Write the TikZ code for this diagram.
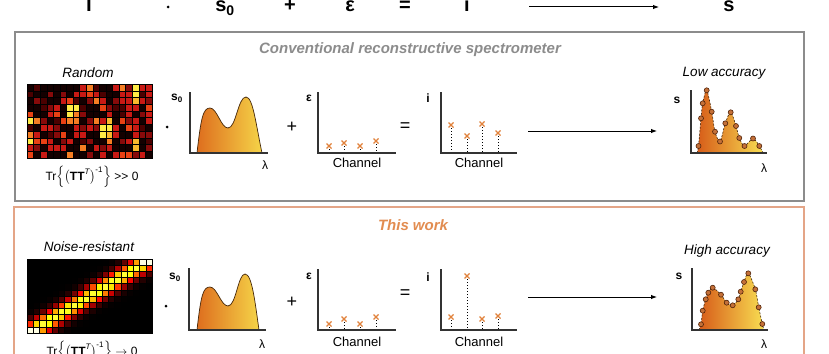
\documentclass[tikz,border=0pt]{standalone}
\usepackage{fontspec}
\usepackage{amsmath}
\setmainfont{Liberation Sans}
\usetikzlibrary{arrows.meta}
\definecolor{boxgray}{RGB}{140,140,140}
\definecolor{boxorange}{RGB}{228,165,135}
\definecolor{worko}{RGB}{226,140,80}
\definecolor{markc}{RGB}{225,130,60}
\definecolor{dotfill}{RGB}{196,112,56}
\definecolor{dotdraw}{RGB}{80,35,10}
\definecolor{sleft}{RGB}{222,110,30}
\definecolor{sright}{RGB}{245,212,72}
\definecolor{rleft}{RGB}{215,92,25}
\definecolor{rright}{RGB}{248,222,82}
\definecolor{s0line}{RGB}{70,40,10}
\definecolor{lv0}{RGB}{20,0,0}
\definecolor{lv1}{RGB}{75,0,0}
\definecolor{lv2}{RGB}{135,10,10}
\definecolor{lv3}{RGB}{200,25,20}
\definecolor{lv4}{RGB}{232,65,20}
\definecolor{lv5}{RGB}{245,125,35}
\definecolor{lv6}{RGB}{250,185,45}
\definecolor{lv7}{RGB}{255,235,70}
\definecolor{lv8}{RGB}{255,250,220}
\begin{document}
\begin{tikzpicture}[x=1pt,y=-1pt,
  every node/.style={inner sep=0pt, outer sep=0pt},
  toplbl/.style={font=\fontsize{20}{20}\selectfont\bfseries, anchor=base},
  boxtitle/.style={font=\fontsize{15}{15}\selectfont\bfseries\itshape},
  capt/.style={font=\fontsize{13.5}{13.5}\selectfont\itshape},
  axlbl/.style={font=\fontsize{12}{12}\selectfont\bfseries},
  lamlbl/.style={font=\fontsize{12}{12}\selectfont},
  chan/.style={font=\fontsize{13}{13}\selectfont},
  oplbl/.style={font=\fontsize{18}{18}\selectfont},
  trlbl/.style={font=\fontsize{12}{12}\selectfont},
  axisline/.style={draw=black!80, line width=1.1pt},
  arr/.style={line width=1pt, -{Latex[length=6pt,width=4.5pt]}},
  stemline/.style={dotted, line width=1pt},
  mdot/.style={circle, fill=black, minimum size=3pt},
  sdot/.style={fill=dotfill, draw=dotdraw, line width=0.6pt},
  cellbox/.style={draw=black, line width=0.4pt},
  xm/.pic={\draw[markc, line width=1.3pt] (-2.5,-2.5)--(2.5,2.5) (-2.5,2.5)--(2.5,-2.5);},
]
\useasboundingbox (0,0) rectangle (829,353);
\fill[white] (0,0) rectangle (829,353);

% ---------- top equation row ----------
\node[toplbl] (tT) at (89,12) {T};
\node[mdot] (tdot) at (168,7) {};
\node[toplbl] (ts0) at (225,12) {s\textsubscript{0}};
\node[toplbl] (tplus) at (290,12) {+};
\node[toplbl] (teps) at (350,12) {ε};
\node[toplbl] (teq) at (405,12) {=};
\node[toplbl] (ti) at (467,12) {i};
\coordinate (ta1) at (529,7);
\coordinate (ta2) at (659,7);
\draw[arr] (ta1) -- (ta2);
\node[toplbl] (tsr) at (729,12) {s};

% ---------- boxes ----------
\draw[boxgray, line width=1.5pt] (15,32) rectangle (804,201);
\draw[boxorange, line width=1.5pt] (14,207) rectangle (804,370);
\node[boxtitle, text=boxgray] (title1) at (410,50) {Conventional reconstructive spectrometer};
\node[boxtitle, text=worko] (title2) at (413,225) {This work};

% ---------- row 1 ----------
\node[capt] (rand) at (88,73) {Random};
\foreach \row [count=\r from 0] in {
 {0,1,0,0,0,0,0,0,3,5,1,0,0,3,5,2,7,3,3},
 {1,0,0,2,0,2,0,3,3,4,3,1,0,0,3,3,7,1,3},
 {0,2,1,0,0,3,4,1,0,2,5,3,0,2,3,3,6,3,2},
 {0,0,1,2,3,0,7,7,1,0,0,4,2,1,1,3,3,0,4},
 {4,0,0,3,4,0,7,5,2,0,0,0,3,0,1,3,0,2,3},
 {7,5,2,0,1,4,5,5,0,2,5,3,6,0,4,2,3,0,3},
 {1,0,3,3,2,0,0,3,2,3,2,7,7,3,0,4,3,1,0},
 {5,3,0,1,2,4,0,3,3,0,0,7,6,3,0,0,3,2,2},
 {7,4,4,3,0,2,3,0,1,2,0,0,5,0,2,3,6,0,1},
 {3,2,0,3,3,3,0,0,5,0,3,2,3,0,0,0,6,0,2},
 {4,0,3,0,0,0,5,0,0,2,0,3,0,3,4,4,2,3,0}}{
  \foreach \val [count=\c from 0] in \row {
    \filldraw[cellbox, fill=lv\val] ({27+\c*6.579},{84+\r*6.727}) rectangle ++(6.579,6.727);
  }
}
\node[trlbl] (tr1) at (92,177) {Tr$\left\{\left(\textbf{TT}^{\textit{T}}\right)^{\text{-1}}\right\}$ {>}{>} 0};
\node[mdot] (d1) at (167,127) {};

\path[draw=s0line, line width=0.7pt, left color=sleft, right color=sright]
  (197,153) .. controls (201,118) and (203,108) .. (210,108)
  .. controls (217,108) and (221,128) .. (228,128)
  .. controls (236,128) and (238,97) .. (246,97)
  .. controls (253,97) and (256,125) .. (262,153) -- cycle;
\draw[axisline] (190,92) -- (190,153) -- (268,153);
\node[axlbl] (s0a) at (177,98) {s\textsubscript{0}};
\node[lamlbl] (lam1) at (265,165) {λ};

\node[oplbl] (p1) at (292,127) {+};
\draw[axisline] (318,92) -- (318,153) -- (396,153);
\node[axlbl] (e1) at (309,98) {ε};
\foreach \x/\y in {329/146,344/143,360/146,376/141}{
  \draw[stemline] (\x,\y+3) -- (\x,152);
  \pic at (\x,\y) {xm};
}
\node[chan] (c1) at (357,163) {Channel};

\node[oplbl] (q1) at (405,127) {=};
\draw[axisline] (441,92) -- (441,153) -- (517,153);
\node[axlbl] (i1) at (428,98) {i};
\foreach \x/\y in {451/125,467/136,482/124,498/133}{
  \draw[stemline] (\x,\y+3) -- (\x,152);
  \pic at (\x,\y) {xm};
}
\node[chan] (c2) at (479,163) {Channel};

\coordinate (a1s) at (528,131);
\coordinate (a1e) at (657,131);
\draw[arr] (a1s) -- (a1e);

\node[capt] (low) at (724,73) {Low accuracy};
\path[left color=rleft, right color=rright]
  plot[smooth, tension=0.5] coordinates {(697,153) (698.5,146) (701,118.3) (702.7,103.3) (706.7,90.3) (711.7,111.7) (715,131.7) (720,141.5) (725.3,123.3) (730.7,112.3) (736,126) (739.3,138) (744.5,146) (753,138.5) (759.3,146) (763,153)} -- cycle;
\draw[s0line, dashed, dash pattern=on 2pt off 1.5pt, line width=0.6pt]
  plot[smooth, tension=0.5] coordinates {(697,153) (698.5,146) (701,118.3) (702.7,103.3) (706.7,90.3) (711.7,111.7) (715,131.7) (720,141.5) (725.3,123.3) (730.7,112.3) (736,126) (739.3,138) (744.5,146) (753,138.5) (759.3,146) (763,153)};
\draw[axisline] (691,90) -- (691,153) -- (767,153);
\foreach \x/\y in {698.5/146,701/118.3,702.7/103.3,706.7/90.3,711.7/111.7,715/131.7,720/141.5,725.3/123.3,730.7/112.3,736/126,739.3/138,744.5/146,753/138.5,759.3/146}{
  \filldraw[sdot] (\x,\y) circle (2.5);
}
\node[axlbl] (sr1) at (677,100) {s};
\node[lamlbl] (lam2) at (764,168) {λ};

% ---------- row 2 ----------
\node[capt] (nr) at (89,247) {Noise-resistant};
\foreach \r in {0,...,11}{
  \foreach \c in {0,...,19}{
    \pgfmathsetmacro\dd{\c-(18.5-\r*18/11)}
    \pgfmathsetmacro\ee{min(\dd*\dd/7,9)}
    \pgfmathsetmacro\corner{(\r==0 && \c>=18) || (\r==11 && \c<=1) ? 0.25 : 0}
    \pgfmathsetmacro\vv{min(1,0.74*exp(-\ee)+\corner)}
    \pgfmathsetmacro\cR{min(1,3*\vv)}
    \pgfmathsetmacro\cG{min(1,max(0,3*\vv-1))}
    \pgfmathsetmacro\cB{max(0,3*\vv-2)}
    \definecolor{cellc}{rgb}{\cR,\cG,\cB}
    \filldraw[cellbox, fill=cellc] ({27+\c*6.25},{259+\r*6.1667}) rectangle ++(6.25,6.1667);
  }
}
\node[trlbl] (tr2) at (92,352) {Tr$\left\{\left(\textbf{TT}^{\textit{T}}\right)^{\text{-1}}\right\}$ $\rightarrow$ 0};
\node[mdot] (d2) at (166,306) {};

\path[draw=s0line, line width=0.7pt, left color=sleft, right color=sright]
  (197,330) .. controls (201,295) and (203,287) .. (210,287)
  .. controls (217,287) and (221,306) .. (228,306)
  .. controls (236,306) and (238,274) .. (245,274)
  .. controls (252,274) and (255,302) .. (259,330) -- cycle;
\draw[axisline] (189,268) -- (189,330) -- (266,330);
\node[axlbl] (s0b) at (175,277) {s\textsubscript{0}};
\node[lamlbl] (lam3) at (262,344) {λ};

\node[oplbl] (p2) at (292,302) {+};
\draw[axisline] (318,269) -- (318,330) -- (396,330);
\node[axlbl] (e2) at (309,276) {ε};
\foreach \x/\y in {329/324,344/319,360/324,376/317}{
  \draw[stemline] (\x,\y+3) -- (\x,329);
  \pic at (\x,\y) {xm};
}
\node[chan] (c3) at (357,342) {Channel};

\node[oplbl] (q2) at (405,294) {=};
\draw[axisline] (441,269) -- (441,330) -- (517,330);
\node[axlbl] (i2) at (428,277) {i};
\foreach \x/\y in {451/317,467/276,482/319,498/316}{
  \draw[stemline] (\x,\y+3) -- (\x,329);
  \pic at (\x,\y) {xm};
}
\node[chan] (c4) at (479,342) {Channel};

\coordinate (a2s) at (528,297);
\coordinate (a2e) at (657,297);
\draw[arr] (a2s) -- (a2e);

\node[capt] (high) at (727,251) {High accuracy};
\path[left color=rleft, right color=rright]
  plot[smooth, tension=0.5] coordinates {(699,330) (701,324.3) (702.7,310.7) (705.7,299.3) (708.3,292.7) (712.7,287.7) (721,294.7) (726.7,302.7) (732.7,305.3) (738.3,299.3) (740.7,291.7) (744,282) (748.3,273.3) (755.3,289.3) (758.7,307.3) (762.3,324) (764,330)} -- cycle;
\draw[s0line, dashed, dash pattern=on 2pt off 1.5pt, line width=0.6pt]
  plot[smooth, tension=0.5] coordinates {(699,330) (701,324.3) (702.7,310.7) (705.7,299.3) (708.3,292.7) (712.7,287.7) (721,294.7) (726.7,302.7) (732.7,305.3) (738.3,299.3) (740.7,291.7) (744,282) (748.3,273.3) (755.3,289.3) (758.7,307.3) (762.3,324) (764,330)};
\draw[axisline] (692,268) -- (692,330) -- (768,330);
\foreach \x/\y in {701/324.3,702.7/310.7,705.7/299.3,708.3/292.7,712.7/287.7,721/294.7,726.7/302.7,732.7/305.3,738.3/299.3,740.7/291.7,744/282,748.3/273.3,755.3/289.3,758.7/307.3,762.3/324}{
  \filldraw[sdot] (\x,\y) circle (2.5);
}
\node[axlbl] (sr2) at (679,276) {s};
\node[lamlbl] (lam4) at (764,344) {λ};
\end{tikzpicture}
\end{document}
